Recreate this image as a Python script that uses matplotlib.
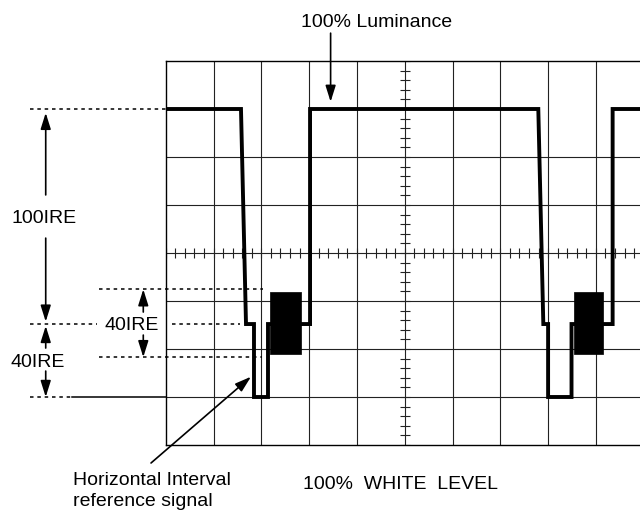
import numpy as np
import matplotlib
matplotlib.use("Agg")
import matplotlib.pyplot as plt
from matplotlib.collections import LineCollection

plt.rcParams['font.family'] = ['Liberation Sans', 'DejaVu Sans']

# ---- data (grid divisions: x 0..10, y -4..4) ----
WHITE = 3.0      # 100% luminance level
BLANK = -1.48    # blanking level
SYNC = -3.0      # sync tip
wave_x = [0, 1.575, 1.68, 1.847, 1.847, 2.14, 2.14, 3.02, 3.02,
          7.795, 7.90, 8.00, 8.00, 8.49, 8.49, 9.35, 9.35, 10.0]
wave_y = [WHITE, WHITE, BLANK, BLANK, SYNC, SYNC, BLANK, BLANK, WHITE,
          WHITE, BLANK, BLANK, SYNC, SYNC, BLANK, BLANK, WHITE, WHITE]
burst_x0 = [2.18, 8.54]
burst_x1 = [2.824, 9.155]
burst_top = -0.81
burst_bot = -2.10
burst_ref_top = -0.756
burst_ref_bot = -2.17

labels = {
    'lum': "100% Luminance",
    'ire100': "100IRE",
    'ire40': "40IRE",
    'hint': "Horizontal Interval\nreference signal",
    'white': "100%  WHITE  LEVEL",
}

fig = plt.figure(figsize=(6.4, 5.13), dpi=100)
ax = fig.add_axes([165.7 / 640, 68 / 513, 478 / 640, 384 / 513])
ax.set_xlim(0, 10)
ax.set_ylim(-4, 4)
ax.set_xticks([])
ax.set_yticks([])
for s in ax.spines.values():
    s.set_linewidth(1.0)
    s.set_color('black')

gc = '#222222'
for gx in range(1, 10):
    ax.axvline(gx, color=gc, lw=0.8, zorder=1)
for gy in [-3, -2, -1, 0, 1, 2]:
    ax.axhline(gy, color=gc, lw=0.8, zorder=1)

# centre graticule ticks
tl = 0.104
segs = [[(t, -tl), (t, tl)] for t in np.arange(0, 10.001, 0.2)]
segs += [[(5 - tl, t), (5 + tl, t)] for t in np.arange(-4, 4.001, 0.2)]
ax.add_collection(LineCollection(segs, colors=gc, linewidths=0.8, zorder=1))

# waveform
ax.plot(wave_x, wave_y, color='black', lw=2.8, solid_joinstyle='miter', zorder=3)
for a, b in zip(burst_x0, burst_x1):
    ax.fill_between([a, b], burst_bot, burst_top, color='black', lw=0.5, zorder=3)

dash = dict(color='black', lw=1.1, dashes=(2.3, 2.5), clip_on=False, zorder=2)
# left reference dotted lines
ax.plot([-2.84, 0], [WHITE, WHITE], **dash)
ax.plot([-2.84, -1.44], [BLANK, BLANK], **dash)
ax.plot([0.126, 1.55], [BLANK, BLANK], **dash)
ax.plot([-1.39, 2.035], [burst_ref_top, burst_ref_top], **dash)
ax.plot([-1.39, 2.01], [burst_ref_bot, burst_ref_bot], **dash)
ax.plot([-2.84, -1.967], [SYNC, SYNC], **dash)
ax.plot([-1.967, 0], [SYNC, SYNC], color='black', lw=1.1, clip_on=False)

astyle = '-|>,head_length=0.7,head_width=0.22'
def arrow(tip, tail):
    ax.annotate('', xy=tip, xytext=tail,
                arrowprops=dict(arrowstyle=astyle, color='black', lw=1.2,
                                mutation_scale=14, shrinkA=0, shrinkB=0),
                annotation_clip=False)

fs = 14
# 100IRE
ax.text(-2.55, 0.715, labels['ire100'], fontsize=fs, ha='center', va='center')
arrow((-2.51, 2.92), (-2.51, 1.21))
arrow((-2.51, -1.43), (-2.51, 0.31))
# left 40IRE
ax.text(-2.68, -2.285, labels['ire40'], fontsize=fs, ha='center', va='center')
arrow((-2.51, -1.52), (-2.51, -1.98))
arrow((-2.51, -3.0), (-2.51, -2.46))
# right 40IRE (burst)
ax.text(-0.715, -1.5, labels['ire40'], fontsize=fs, ha='center', va='center')
arrow((-0.469, burst_ref_top), (-0.469, -1.23))
arrow((-0.469, burst_ref_bot), (-0.469, -1.71))
# luminance
ax.text(4.414, 4.80, labels['lum'], fontsize=fs, ha='center', va='center')
arrow((3.45, 3.15), (3.45, 4.58))
# horizontal interval
arrow((1.785, -2.577), (-0.307, -4.375))
ax.text(-1.93, -4.96, labels['hint'], fontsize=fs, ha='left', va='center',
        linespacing=1.3)
ax.text(4.92, -4.83, labels['white'], fontsize=fs, ha='center', va='center')

fig.savefig('out.png', dpi=100)
